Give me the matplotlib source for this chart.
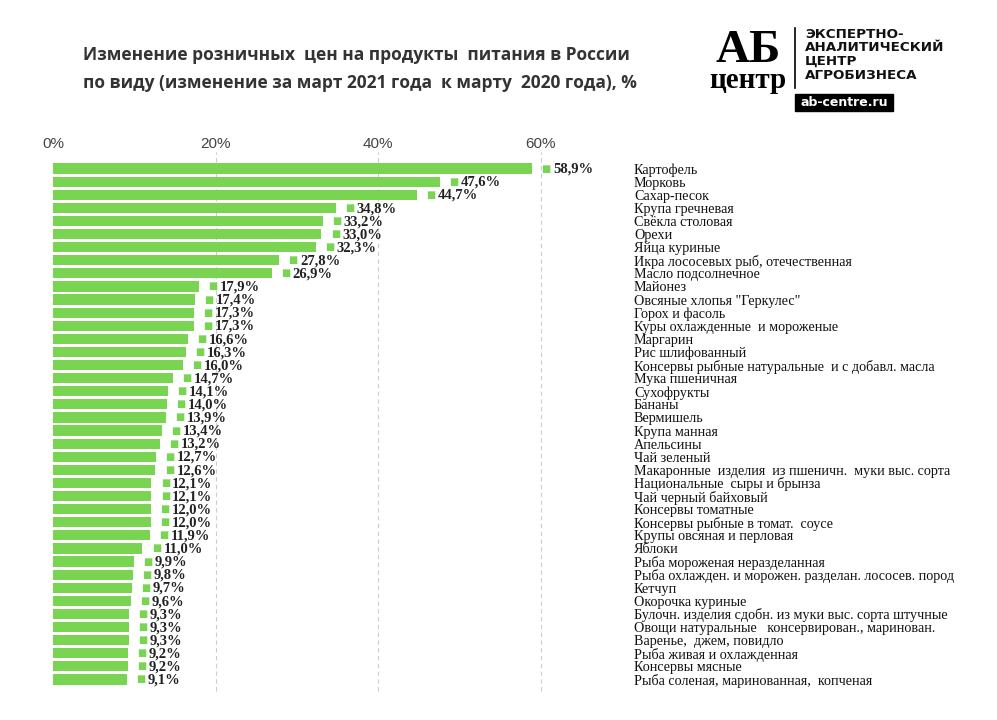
import numpy as np
import matplotlib.pyplot as plt
from matplotlib.patches import Rectangle

# Изменение розничных цен, март 2021 к марту 2020, %
products = ['Картофель', 'Морковь', 'Сахар-песок', 'Крупа гречневая', 'Свёкла столовая',
            'Орехи', 'Яйца куриные', 'Икра лососевых рыб, отечественная', 'Масло подсолнечное',
            'Майонез', 'Овсяные хлопья "Геркулес"', 'Горох и фасоль',
            'Куры охлажденные  и мороженые', 'Маргарин', 'Рис шлифованный',
            'Консервы рыбные натуральные  и с добавл. масла', 'Мука пшеничная', 'Сухофрукты',
            'Бананы', 'Вермишель', 'Крупа манная', 'Апельсины', 'Чай зеленый',
            'Макаронные  изделия  из пшеничн.  муки выс. сорта', 'Национальные  сыры и брынза',
            'Чай черный байховый', 'Консервы томатные', 'Консервы рыбные в томат.  соусе',
            'Крупы овсяная и перловая', 'Яблоки', 'Рыба мороженая неразделанная',
            'Рыба охлажден. и морожен. разделан. лососев. пород', 'Кетчуп', 'Окорочка куриные',
            'Булочн. изделия сдобн. из муки выс. сорта штучные',
            'Овощи натуральные   консервирован., маринован.', 'Варенье,  джем, повидло',
            'Рыба живая и охлажденная', 'Консервы мясные', 'Рыба соленая, маринованная,  копченая']
change = [58.9, 47.6, 44.7, 34.8, 33.2, 33.0, 32.3, 27.8, 26.9, 17.9, 17.4, 17.3, 17.3,
          16.6, 16.3, 16.0, 14.7, 14.1, 14.0, 13.9, 13.4, 13.2, 12.7, 12.6, 12.1, 12.1,
          12.0, 12.0, 11.9, 11.0, 9.9, 9.8, 9.7, 9.6, 9.3, 9.3, 9.3, 9.2, 9.2, 9.1]
x_ticks = [0, 20, 40, 60]

green = '#79d452'
W, H = 997, 720

fig = plt.figure(figsize=(9.97, 7.2), dpi=100)
# оси: от x=53 до x=620 пикселей, от y=162 до y=686
ax = fig.add_axes([53 / W, 1 - 686 / H, (620 - 53) / W, (686 - 162) / H])

y = np.arange(len(products))
ax.barh(y, change, height=0.78, color=green, zorder=2)
ax.set_ylim(len(products) - 0.5, -0.5)
ax.set_xlim(0, (620 - 53) / ((541 - 53) / 60))

for yi, v in zip(y, change):
    ax.annotate('■', (v, yi), xytext=(10, 0), textcoords='offset points',
                va='center', ha='center', color=green, fontsize=7,
                family=['DejaVu Sans'])
    ax.annotate('{:.1f}%'.format(v).replace('.', ','), (v, yi), xytext=(15, -0.5),
                textcoords='offset points', va='center', ha='left',
                fontsize=10.5, fontweight='bold', family='Liberation Serif', color='#222222')

ax.set_xticks(x_ticks)
ax.set_xticklabels([f'{t}%' for t in x_ticks], family='Liberation Sans', fontsize=11,
                   color='#444444')
ax.xaxis.tick_top()
ax.tick_params(axis='x', length=0, pad=8)
for t in x_ticks[1:]:
    ax.axvline(t, ymin=-0.01, ymax=1.02, color='#cccccc', lw=0.8, ls=(0, (4, 3)),
               zorder=1, clip_on=False)

ax.yaxis.tick_right()
ax.set_yticks(y)
ax.set_yticklabels(products, family='Liberation Serif', fontsize=10.2, color='#111111')
ax.tick_params(axis='y', length=0, pad=10)
for s in ax.spines.values():
    s.set_visible(False)

# заголовок
fig.text(83 / W, 1 - 55 / H,
         'Изменение розничных  цен на продукты  питания в России',
         fontsize=12.5, fontweight='bold', family='Open Sans', color='#333333', va='center')
fig.text(83 / W, 1 - 83 / H,
         'по виду (изменение за март 2021 года  к марту  2020 года), %',
         fontsize=12.5, fontweight='bold', family='Open Sans', color='#333333', va='center')

# логотип
fig.text(748 / W, 1 - 62 / H, 'АБ', fontsize=34, fontweight='bold', family='Liberation Serif',
         ha='center', va='baseline', color='black')
fig.text(748 / W, 1 - 88 / H, 'центр', fontsize=21, fontweight='bold', family='Liberation Serif',
         ha='center', va='baseline', color='black')
fig.add_artist(plt.Line2D([795 / W, 795 / W], [1 - 28 / H, 1 - 88 / H], color='black', lw=1.2))
for i, line in enumerate(['ЭКСПЕРТНО-', 'АНАЛИТИЧЕСКИЙ', 'ЦЕНТР', 'АГРОБИЗНЕСА']):
    fig.text(805 / W, 1 - (34 + 13.7 * i) / H, line, fontsize=9.7, fontweight='bold',
             family='DejaVu Sans', va='center', color='#111111')
fig.add_artist(Rectangle((795 / W, 1 - 111 / H), 98 / W, 17 / H, transform=fig.transFigure,
                         color='black'))
fig.text(844 / W, 1 - 102.5 / H, 'ab-centre.ru', fontsize=9, fontweight='bold',
         family='DejaVu Sans', color='white', ha='center', va='center')

fig.savefig('out.png', dpi=100, facecolor='white')
